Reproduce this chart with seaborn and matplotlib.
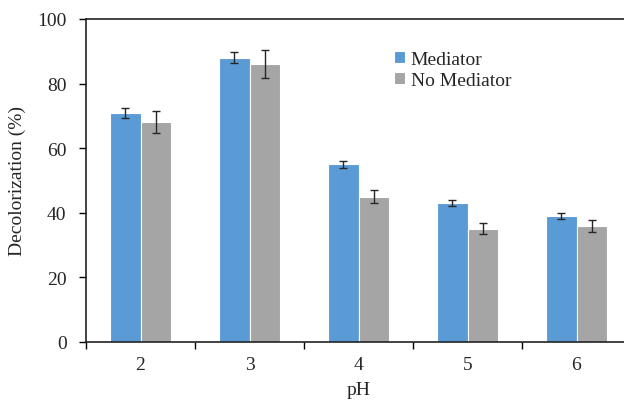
import pandas as pd
import numpy as np
import seaborn as sns
import matplotlib.pyplot as plt

ph = ['2', '3', '4', '5', '6']
mediator = [71, 88, 55, 43, 39]
mediator_err = [1.5, 1.7, 1.0, 1.0, 0.8]
no_mediator = [68, 86, 45, 35, 36]
no_mediator_err = [3.4, 4.3, 2.0, 1.7, 1.8]

df = pd.DataFrame({
    'pH': ph * 2,
    'val': mediator + no_mediator,
    'err': mediator_err + no_mediator_err,
    'grp': ['Mediator'] * 5 + ['No Mediator'] * 5,
})

sns.set_style('white')
plt.rcParams['font.family'] = ['Liberation Serif', 'DejaVu Serif']

fig = plt.figure(figsize=(6.24, 4.02), dpi=100)
ax = fig.add_axes([86/624, 1 - 343/402, 545/624, 323/402])
sns.barplot(data=df, x='pH', y='val', hue='grp', order=ph,
            palette=['#5B9BD5', '#A5A5A5'], saturation=1, width=0.56, errorbar=None,
            edgecolor='white', linewidth=0.8, ax=ax)

# error bars at the bar centres
for cont, g in zip(ax.containers, ['Mediator', 'No Mediator']):
    sub = df[df.grp == g]
    xs = [p.get_x() + p.get_width() / 2 for p in cont]
    ax.errorbar(xs, sub['val'], yerr=sub['err'], fmt='none', ecolor='#262626',
                elinewidth=1, capsize=3, capthick=1)

ax.set_ylim(0, 100)
ax.set_xlim(-0.5, 4.5)
ax.set_yticks(range(0, 101, 20))
ax.set_xlabel('pH', fontsize=14, labelpad=6)
ax.set_ylabel('Decolorization (%)', fontsize=14, labelpad=8)
ax.tick_params(axis='y', labelsize=14, length=5, width=1, pad=9, direction='out', left=True, color='black')
ax.tick_params(axis='x', labelsize=14, length=0, pad=10)
ax.set_xticks(np.arange(-0.5, 5, 1), minor=True)
ax.tick_params(axis='x', which='minor', length=5, width=1, bottom=True, direction='out', color='black')
for s in ax.spines.values():
    s.set_color('#222222')
    s.set_linewidth(1.2)

leg = ax.legend(loc='upper left', bbox_to_anchor=(0.533, 0.955), frameon=False,
                fontsize=14, handlelength=0.55, handleheight=0.55, handletextpad=0.3,
                labelspacing=0.2)

fig.savefig('out.png', dpi=100)
